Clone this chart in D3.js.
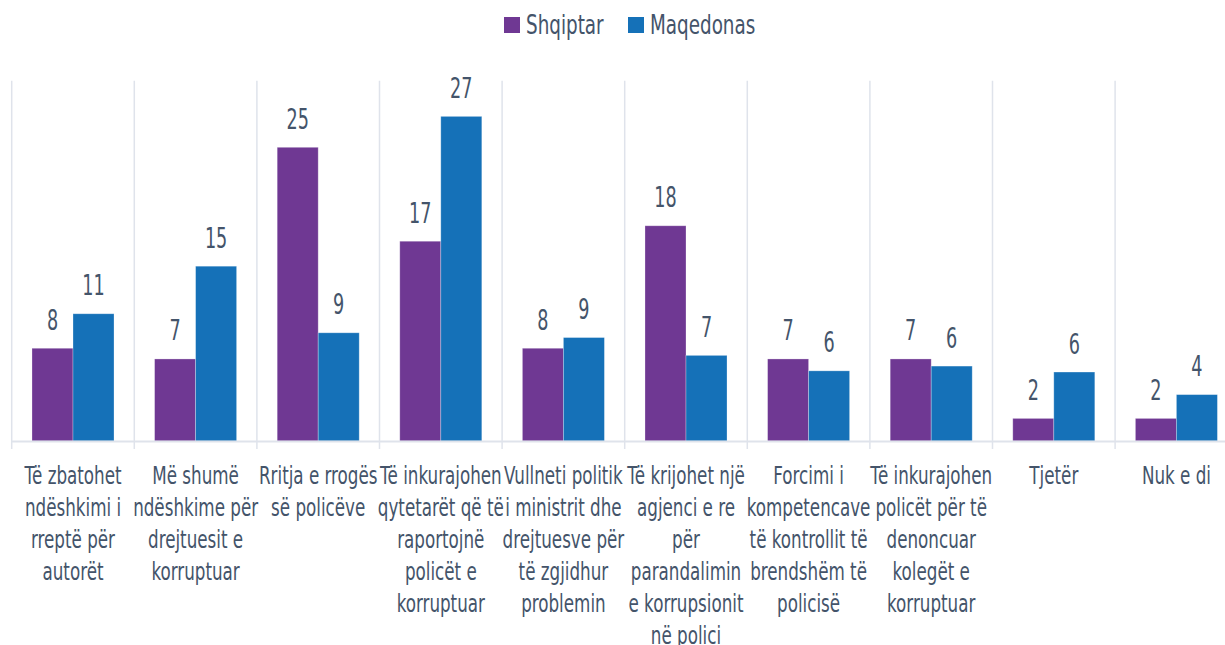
<!DOCTYPE html>
<html>
<head>
<meta charset="utf-8">
<script src="https://cdn.jsdelivr.net/npm/d3@7"></script>
<style>
  body{margin:0;background:#fff;}
  svg{display:block;}
  text{font-family:"DejaVu Sans Condensed","Liberation Sans Narrow","Liberation Sans",sans-serif;fill:#44546a;}
</style>
</head>
<body>
<script>
// categories (line breaks as in the original chart)
const categories=[
  "Të zbatohet\nndëshkimi i\nrreptë për\nautorët",
  "Më shumë\nndëshkime për\ndrejtuesit e\nkorruptuar",
  "Rritja e rrogës\nsë policëve",
  "Të inkurajohen\nqytetarët që të\nraportojnë\npolicët e\nkorruptuar",
  "Vullneti politik\ni ministrit dhe\ndrejtuesve për\ntë zgjidhur\nproblemin",
  "Të krijohet një\nagjenci e re\npër\nparandalimin\ne korrupsionit\nnë polici",
  "Forcimi i\nkompetencave\ntë kontrollit të\nbrendshëm të\npolicisë",
  "Të inkurajohen\npolicët për të\ndenoncuar\nkolegët e\nkorruptuar",
  "Tjetër",
  "Nuk e di"
];
const seriesNames=["Shqiptar","Maqedonas"];
const shqiptar=[7.8,6.9,24.7,16.8,7.8,18.1,6.9,6.9,1.9,1.9];
const maqedonas=[10.7,14.7,9.1,27.3,8.7,7.2,5.9,6.3,5.8,3.9];
const colors=["#6f3893","#1571b8"];

const w=1225, h=645;
const plotLeft=11.7, step=122.6, plotTop=80.7, base=441;
// horizontal squeeze to mimic the condensed face
const catSx=0.73, valSx=0.7, legSx=0.77;

let data=categories.map((c,i)=>({cat:c,vals:[shqiptar[i],maqedonas[i]]}));

const svg=d3.select("body").append("svg")
  .attr("width",w).attr("height",h);

const x0=d3.scaleBand()
  .domain(d3.range(categories.length))
  .range([plotLeft,plotLeft+step*categories.length])
  .paddingInner(0.331)
  .paddingOuter(0.1655);

const x1=d3.scaleBand()
  .domain([0,1])
  .range([0,x0.bandwidth()]);

const y=d3.scaleLinear()
  .domain([0,30.3])
  .range([base,plotTop]);

// vertical gridlines between categories
const bounds=d3.range(categories.length+1).map(i=>plotLeft+step*i);
svg.selectAll("line.grid")
  .data(bounds)
  .enter()
  .append("line")
  .attr("class","grid")
  .attr("x1",d=>d).attr("x2",d=>d)
  .attr("y1",plotTop).attr("y2",base+8)
  .attr("stroke","#dfe3eb")
  .attr("stroke-width",1.5);

// bars
const groups=svg.selectAll("g.cat")
  .data(data)
  .enter()
  .append("g")
  .attr("class","cat")
  .attr("transform",(d,i)=>"translate("+x0(i)+",0)");

groups.selectAll("rect")
  .data(d=>d.vals)
  .enter()
  .append("rect")
  .attr("x",(d,j)=>x1(j))
  .attr("y",d=>y(d))
  .attr("width",x1.bandwidth())
  .attr("height",d=>base-y(d))
  .attr("fill",(d,j)=>colors[j])
  .attr("stroke","rgba(255,255,255,0.35)")
  .attr("stroke-width",0.8);

groups.selectAll("text.val")
  .data(d=>d.vals)
  .enter()
  .append("text")
  .attr("class","val")
  .attr("transform",(d,j)=>"translate("+(x1(j)+x1.bandwidth()/2)+","+(y(d)-18.5)+") scale("+valSx+",1)")
  .attr("text-anchor","middle")
  .style("font-size","28px")
  .text(d=>d3.format(".0f")(d));

// baseline axis
svg.append("line")
  .attr("x1",plotLeft).attr("x2",w)
  .attr("y1",base+0.5).attr("y2",base+0.5)
  .attr("stroke","#dfe3eb")
  .attr("stroke-width",2);

// category labels
const lab=svg.selectAll("text.catlab")
  .data(data)
  .enter()
  .append("text")
  .attr("class","catlab")
  .attr("transform",(d,i)=>"translate("+(x0(i)+x0.bandwidth()/2)+",484) scale("+catSx+",1)")
  .attr("text-anchor","middle")
  .style("font-size","25.5px");

lab.selectAll("tspan")
  .data(d=>d.cat.split("\n"))
  .enter()
  .append("tspan")
  .attr("x",0)
  .attr("dy",(d,k)=>k===0?0:32)
  .text(d=>d);

// legend
const legendX=[504,628];
const leg=svg.selectAll("g.leg")
  .data(seriesNames)
  .enter()
  .append("g")
  .attr("class","leg")
  .attr("transform",(d,i)=>"translate("+legendX[i]+",17)");

leg.append("rect")
  .attr("width",16).attr("height",16)
  .attr("fill",(d,i)=>colors[i]);

leg.append("text")
  .attr("transform","translate("+22+",17) scale("+legSx+",1)")
  .style("font-size","26.5px")
  .text(d=>d);
</script>
</body>
</html>
